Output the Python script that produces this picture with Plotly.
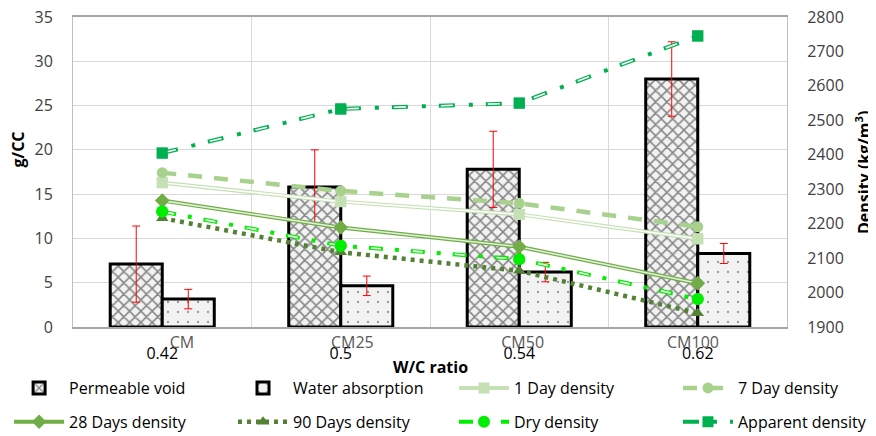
import plotly.graph_objects as go

# ---------------- data ----------------
wc_ratio = ["0.42", "0.5", "0.54", "0.62"]
mixes = ["CM", "CM25", "CM50", "CM100"]
mix_ticks = [0, 1, 2, 3]

permeable_void = [7.1, 15.8, 17.8, 28.0]
permeable_void_err = [4.3, 4.2, 4.3, 4.2]
water_absorption = [3.15, 4.65, 6.2, 8.3]
water_absorption_err = [1.1, 1.1, 1.1, 1.13]

density_1day = [2319, 2264, 2227, 2156]
density_7day = [2348, 2295, 2259, 2191]
density_28days = [2267, 2189, 2133, 2027]
density_90days = [2216, 2117, 2063, 1940]
dry_density = [2235, 2136, 2097, 1981]
apparent_density = [2405, 2533, 2550, 2745]

FONT = "Open Sans"
fig = go.Figure()

# ---------------- bars ----------------
fig.add_trace(go.Bar(
    x=wc_ratio, y=permeable_void, name="Permeable void", legend="legend",
    marker=dict(color="#f2f2f2", line=dict(color="black", width=3),
                pattern=dict(shape="x", fgcolor="#1a1a1a", bgcolor="#f2f2f2",
                             size=8, solidity=0.35)),
    error_y=dict(type="data", array=permeable_void_err, color="#ff0000",
                 thickness=1, width=4),
))
fig.add_trace(go.Bar(
    x=wc_ratio, y=water_absorption, name="Water absorption", legend="legend2",
    marker=dict(color="#f2f2f2", line=dict(color="black", width=3),
                pattern=dict(shape=".", fgcolor="#3a3a3a", bgcolor="#f2f2f2",
                             size=10, solidity=0.04)),
    error_y=dict(type="data", array=water_absorption_err, color="#ff0000",
                 thickness=1, width=4),
))


def add_density(name, y, color, symbol, msize, mcolor, dash, width, legend,
                inner_color=None, inner_dash="solid", inner_width=None):
    fig.add_trace(go.Scatter(
        x=wc_ratio, y=y, yaxis="y2", name=name, legend=legend,
        mode="lines+markers",
        line=dict(color=color, width=width, dash=dash),
        marker=dict(symbol=symbol, size=msize, color=mcolor),
    ))
    if inner_color is not None:
        fig.add_trace(go.Scatter(
            x=wc_ratio, y=y, yaxis="y2", showlegend=False, hoverinfo="skip",
            mode="lines", line=dict(color=inner_color, width=inner_width, dash=inner_dash),
        ))
        fig.add_trace(go.Scatter(
            x=wc_ratio, y=y, yaxis="y2", showlegend=False, hoverinfo="skip",
            mode="markers", marker=dict(symbol=symbol, size=msize, color=mcolor),
        ))


add_density("1 Day density", density_1day, "#c5e0b4", "square", 11, "#c5e0b4",
            "solid", 4, "legend3", inner_color="white", inner_width=1.6)
add_density("7 Day density", density_7day, "#a9d18e", "circle", 11, "#a9d18e",
            "14px,12px", 4.5, "legend4")
add_density("28 Days density", density_28days, "#70ad47", "diamond", 11, "#70ad47",
            "solid", 4, "legend5", inner_color="#e2f0d9", inner_width=1.6)
add_density("90 Days density", density_90days, "#548235", "triangle-up", 11, "#548235",
            "4px,5px", 4.5, "legend6")
add_density("Dry density", dry_density, "#00ee00", "circle", 12, "#00ee00",
            "14px,12px,4px,12px", 4, "legend7",
            inner_color="white", inner_dash="0px,2px,10px,30px", inner_width=1.6)
add_density("Apparent density", apparent_density, "#00b050", "square", 11, "#00b050",
            "16px,14px,4px,13px", 4, "legend8",
            inner_color="white", inner_dash="0px,2px,12px,33px", inner_width=1.6)

# invisible carrier so the secondary category axis (mix names) is drawn
fig.add_trace(go.Scatter(x=mix_ticks, y=[None] * len(mix_ticks), xaxis="x2", yaxis="y",
                         showlegend=False, hoverinfo="skip", mode="markers"))

# ---------------- layout ----------------
tickfont = dict(family=FONT, size=16, color="#404040")
legfont = dict(family=FONT, size=16, color="black")

col_x = [-0.0895, 0.2241, 0.5336, 0.8473]
row_y = [-0.197, -0.306]
legends = {}
for i in range(8):
    key = "legend" if i == 0 else f"legend{i + 1}"
    r = 0 if i < 4 else 1
    c = i % 4
    legends[key] = dict(orientation="h", x=col_x[c], y=row_y[r], xanchor="left",
                        yanchor="middle", itemwidth=50, font=legfont,
                        bgcolor="rgba(0,0,0,0)")

# page body has an 8px default margin, so the figure is 8px smaller and offset
fig.update_layout(
    width=868, height=428,
    margin=dict(l=65, r=89, t=9, b=109, autoexpand=False),
    paper_bgcolor="white", plot_bgcolor="white",
    barmode="group", bargap=0.417, bargroupgap=0,
    font=dict(family=FONT, size=16, color="#404040"),
    xaxis=dict(type="category", tickson="boundaries", showgrid=True,
               gridcolor="#d9d9d9", gridwidth=1, showline=True, linecolor="#a6a6a6",
               linewidth=1.5, mirror=True, ticks="",
               tickfont=dict(family=FONT, size=16, color="black"),
               ticklabelstandoff=11),
    xaxis2=dict(overlaying="x", anchor="y", side="bottom", range=[-0.640, 3.552],
                tickmode="array", tickvals=mix_ticks, ticktext=mixes, showgrid=False,
                showline=False, zeroline=False, ticks="",
                tickfont=dict(family=FONT, size=16, color="#595959"), ticklabelstandoff=4),
    yaxis=dict(range=[0, 35], dtick=5, showgrid=True, gridcolor="#d9d9d9", gridwidth=1,
               zeroline=False, showline=True, linecolor="#bfbfbf", ticks="",
               tickfont=tickfont, ticklabelstandoff=16, ticklabeloverflow="allow"),
    yaxis2=dict(range=[1900, 2800], dtick=100, overlaying="y", side="right", anchor="x",
                showgrid=False, zeroline=False, showline=True, linecolor="#bfbfbf",
                ticks="", tickfont=tickfont, ticklabelstandoff=16,
                ticklabeloverflow="allow"),
    annotations=[
        dict(text="<b>g/CC</b>", xref="paper", yref="paper", x=-0.0777, y=0.571,
             xanchor="center", yanchor="middle", textangle=-90, showarrow=False,
             font=dict(family=FONT, size=16, color="black")),
        dict(text="<b>Density (kg/m<sup>3</sup>)</b>", xref="paper", yref="paper",
             x=1.1064, y=0.5, xanchor="center", yanchor="middle", textangle=-90,
             showarrow=False, font=dict(family=FONT, size=16, color="black")),
        dict(text="<b>W/C ratio</b>", xref="paper", yref="paper", x=0.5, y=-0.129,
             xanchor="center", yanchor="middle", showarrow=False,
             font=dict(family=FONT, size=16, color="black")),
    ],
    **legends,
)

fig.write_html("out.html")
